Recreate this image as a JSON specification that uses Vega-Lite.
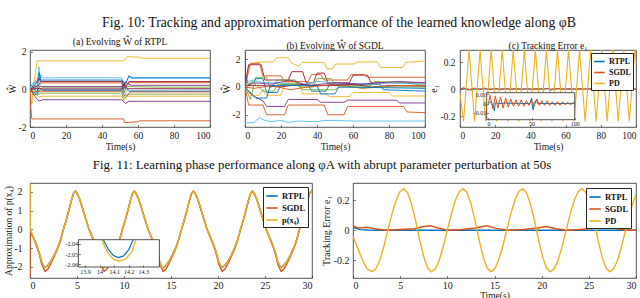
{
"$schema": "https://vega.github.io/schema/vega-lite/v6.json",
"background": "white",
"padding": {"left": 3, "top": 15, "right": 0, "bottom": 0},
"config": {
 "font": "Liberation Serif",
 "locale": {"number": {"decimal": ".", "thousands": ",", "grouping": [3], "currency": ["$", ""], "minus": "-"}},
 "view": {"stroke": "#262626", "strokeWidth": 0.8},
 "axis": {"domain": false, "ticks": true, "tickSize": -2.5, "tickColor": "#262626", "tickWidth": 0.6, "grid": false, "labelFont": "Liberation Serif", "labelFontSize": 9.5, "labelColor": "#1a1a1a", "titleFont": "Liberation Serif", "titleFontSize": 9.5, "titleFontWeight": "normal", "titleColor": "#1a1a1a", "labelPadding": 5.5, "titlePadding": 2},
 "title": {"font": "Liberation Serif", "fontSize": 9.5, "fontWeight": "normal", "color": "#111111"},
 "legend": {"labelFont": "Liberation Serif", "labelFontWeight": "bold", "labelColor": "#111111"}
},
"datasets": {
 "wa": [
  {"s":"a1","t":0,"v":0},{"s":"a1","t":1,"v":-0.8},{"s":"a1","t":2,"v":0.3},{"s":"a1","t":3,"v":0.9},{"s":"a1","t":4,"v":1.52},{"s":"a1","t":52,"v":1.52},{"s":"a1","t":53,"v":1.6},{"s":"a1","t":54,"v":1.75},{"s":"a1","t":61,"v":1.72},{"s":"a1","t":62,"v":1.66},{"s":"a1","t":100,"v":1.66},
  {"s":"a2","t":0,"v":0},{"s":"a2","t":0.5,"v":-1.0},{"s":"a2","t":1,"v":-1.57},{"s":"a2","t":52,"v":-1.57},{"s":"a2","t":52.5,"v":-1.77},{"s":"a2","t":60,"v":-1.72},{"s":"a2","t":61,"v":-1.67},{"s":"a2","t":100,"v":-1.67},
  {"s":"a3","t":0,"v":0.2},{"s":"a3","t":2,"v":-0.2},{"s":"a3","t":3,"v":0.5},{"s":"a3","t":4,"v":0.3},{"s":"a3","t":5,"v":1.2},{"s":"a3","t":5.5,"v":0.2},{"s":"a3","t":6,"v":0.8},{"s":"a3","t":7,"v":0.62},{"s":"a3","t":51,"v":0.62},{"s":"a3","t":52,"v":0.2},{"s":"a3","t":54,"v":0.5},{"s":"a3","t":55,"v":0.75},{"s":"a3","t":56,"v":0.6},{"s":"a3","t":100,"v":0.6},
  {"s":"a4","t":0,"v":0.3},{"s":"a4","t":2,"v":0.1},{"s":"a4","t":4,"v":-0.2},{"s":"a4","t":5,"v":0.9},{"s":"a4","t":6,"v":0.5},{"s":"a4","t":51,"v":0.5},{"s":"a4","t":52,"v":0},{"s":"a4","t":53,"v":0.3},{"s":"a4","t":55,"v":0.7},{"s":"a4","t":57,"v":0.62},{"s":"a4","t":100,"v":0.62},
  {"s":"a5","t":0,"v":0},{"s":"a5","t":3,"v":0.3},{"s":"a5","t":5,"v":0.6},{"s":"a5","t":6,"v":0.42},{"s":"a5","t":52,"v":0.42},{"s":"a5","t":53,"v":0.1},{"s":"a5","t":55,"v":0.42},{"s":"a5","t":100,"v":0.42},
  {"s":"a6","t":0,"v":0},{"s":"a6","t":4,"v":0.2},{"s":"a6","t":6,"v":0.35},{"s":"a6","t":51,"v":0.35},{"s":"a6","t":52,"v":-0.2},{"s":"a6","t":54,"v":0.3},{"s":"a6","t":56,"v":0.36},{"s":"a6","t":100,"v":0.36},
  {"s":"a7","t":0,"v":0},{"s":"a7","t":3,"v":0.2},{"s":"a7","t":5,"v":-0.1},{"s":"a7","t":7,"v":0.12},{"s":"a7","t":51,"v":0.12},{"s":"a7","t":52,"v":-0.2},{"s":"a7","t":54,"v":0.15},{"s":"a7","t":73,"v":0.12},{"s":"a7","t":100,"v":0.12},
  {"s":"a8","t":0,"v":0},{"s":"a8","t":3,"v":-0.4},{"s":"a8","t":5,"v":-0.62},{"s":"a8","t":7,"v":-0.55},{"s":"a8","t":51,"v":-0.55},{"s":"a8","t":53,"v":-0.75},{"s":"a8","t":55,"v":-0.63},{"s":"a8","t":100,"v":-0.63},
  {"s":"a9","t":0,"v":0},{"s":"a9","t":3,"v":-0.2},{"s":"a9","t":5,"v":-0.4},{"s":"a9","t":7,"v":-0.36},{"s":"a9","t":51,"v":-0.36},{"s":"a9","t":52,"v":-0.6},{"s":"a9","t":54,"v":-0.36},{"s":"a9","t":100,"v":-0.36},
  {"s":"a10","t":0,"v":0},{"s":"a10","t":3,"v":-0.3},{"s":"a10","t":5,"v":0.1},{"s":"a10","t":7,"v":-0.05},{"s":"a10","t":51,"v":-0.05},{"s":"a10","t":52,"v":0.3},{"s":"a10","t":55,"v":-0.1},{"s":"a10","t":100,"v":-0.1},
  {"s":"a11","t":0,"v":0},{"s":"a11","t":2,"v":0.4},{"s":"a11","t":4,"v":-0.3},{"s":"a11","t":6,"v":0},{"s":"a11","t":51,"v":0},{"s":"a11","t":52,"v":-0.4},{"s":"a11","t":54,"v":-0.05},{"s":"a11","t":100,"v":-0.03},
  {"s":"a12","t":0,"v":0},{"s":"a12","t":4,"v":-0.3},{"s":"a12","t":6,"v":-0.2},{"s":"a12","t":51,"v":-0.2},{"s":"a12","t":52,"v":-0.5},{"s":"a12","t":55,"v":-0.25},{"s":"a12","t":100,"v":-0.25},
  {"s":"a13","t":0,"v":0},{"s":"a13","t":4,"v":0.2},{"s":"a13","t":6,"v":0.15},{"s":"a13","t":51,"v":0.15},{"s":"a13","t":53,"v":0.4},{"s":"a13","t":56,"v":0.22},{"s":"a13","t":100,"v":0.22},
  {"s":"a14","t":0,"v":0},{"s":"a14","t":4,"v":0.05},{"s":"a14","t":7,"v":0.03},{"s":"a14","t":51,"v":0.03},{"s":"a14","t":52,"v":0.25},{"s":"a14","t":54,"v":0.04},{"s":"a14","t":100,"v":0.04},
  {"s":"a15","t":0,"v":0},{"s":"a15","t":2,"v":-0.15},{"s":"a15","t":5,"v":-0.1},{"s":"a15","t":51,"v":-0.1},{"s":"a15","t":53,"v":-0.35},{"s":"a15","t":56,"v":-0.13},{"s":"a15","t":100,"v":-0.13}
 ],
 "wb": [
  {"s":"b1","t":0,"v":0},{"s":"b1","t":2,"v":1.5},{"s":"b1","t":4.6,"v":1.7},{"s":"b1","t":8,"v":1.8},{"s":"b1","t":15.8,"v":1.8},{"s":"b1","t":17.7,"v":2.1},{"s":"b1","t":24,"v":2.1},{"s":"b1","t":26,"v":1.7},{"s":"b1","t":30,"v":1.5},{"s":"b1","t":31.7,"v":1.77},{"s":"b1","t":43.8,"v":1.77},{"s":"b1","t":45.6,"v":1.3},{"s":"b1","t":48.5,"v":1.3},{"s":"b1","t":50.3,"v":1.65},{"s":"b1","t":60.5,"v":1.65},{"s":"b1","t":62.4,"v":1.8},{"s":"b1","t":73.6,"v":1.8},{"s":"b1","t":75.4,"v":1.4},{"s":"b1","t":87.5,"v":1.4},{"s":"b1","t":89.4,"v":1.77},{"s":"b1","t":100,"v":1.87},
  {"s":"b2","t":0,"v":-2.6},{"s":"b2","t":5,"v":-2.55},{"s":"b2","t":8,"v":-2.2},{"s":"b2","t":10,"v":-2.35},{"s":"b2","t":14,"v":-2.5},{"s":"b2","t":20,"v":-2.4},{"s":"b2","t":24,"v":-2.55},{"s":"b2","t":30,"v":-2.45},{"s":"b2","t":40,"v":-2.5},{"s":"b2","t":45,"v":-2.4},{"s":"b2","t":60,"v":-2.45},{"s":"b2","t":80,"v":-2.45},{"s":"b2","t":100,"v":-2.45},
  {"s":"b3","t":0,"v":0},{"s":"b3","t":2,"v":-1.3},{"s":"b3","t":10,"v":-1.3},{"s":"b3","t":12,"v":-2.0},{"s":"b3","t":22,"v":-2.0},{"s":"b3","t":24,"v":-1.3},{"s":"b3","t":44,"v":-1.3},{"s":"b3","t":46,"v":-2.0},{"s":"b3","t":55,"v":-2.0},{"s":"b3","t":57,"v":-1.4},{"s":"b3","t":88,"v":-1.4},{"s":"b3","t":90,"v":-1.8},{"s":"b3","t":100,"v":-1.85},
  {"s":"b4","t":0,"v":0},{"s":"b4","t":4,"v":-0.6},{"s":"b4","t":10,"v":-1.0},{"s":"b4","t":12,"v":-1.4},{"s":"b4","t":22,"v":-1.4},{"s":"b4","t":24,"v":-0.9},{"s":"b4","t":40,"v":-0.9},{"s":"b4","t":42,"v":-1.1},{"s":"b4","t":55,"v":-1.1},{"s":"b4","t":57,"v":-0.95},{"s":"b4","t":84,"v":-0.95},{"s":"b4","t":86,"v":-1.15},{"s":"b4","t":100,"v":-1.15},
  {"s":"b5","t":0,"v":0},{"s":"b5","t":2,"v":1.6},{"s":"b5","t":9,"v":1.6},{"s":"b5","t":11,"v":0.5},{"s":"b5","t":24,"v":0.5},{"s":"b5","t":26,"v":1.1},{"s":"b5","t":32,"v":1.1},{"s":"b5","t":34,"v":0.3},{"s":"b5","t":38,"v":0.3},{"s":"b5","t":40,"v":1.0},{"s":"b5","t":44,"v":1.0},{"s":"b5","t":46,"v":0.3},{"s":"b5","t":58,"v":0.3},{"s":"b5","t":60,"v":0.85},{"s":"b5","t":68,"v":0.85},{"s":"b5","t":70,"v":0.3},{"s":"b5","t":100,"v":0.3},
  {"s":"b6","t":0,"v":0},{"s":"b6","t":3,"v":1.7},{"s":"b6","t":8,"v":1.7},{"s":"b6","t":10,"v":0.8},{"s":"b6","t":20,"v":0.8},{"s":"b6","t":22,"v":0.4},{"s":"b6","t":35,"v":0.4},{"s":"b6","t":37,"v":0.9},{"s":"b6","t":42,"v":0.9},{"s":"b6","t":44,"v":0.5},{"s":"b6","t":57,"v":0.5},{"s":"b6","t":59,"v":0.9},{"s":"b6","t":66,"v":0.9},{"s":"b6","t":68,"v":0.7},{"s":"b6","t":100,"v":0.7},
  {"s":"b7","t":0,"v":0},{"s":"b7","t":3,"v":-0.6},{"s":"b7","t":8,"v":-0.6},{"s":"b7","t":10,"v":-0.2},{"s":"b7","t":12,"v":-0.6},{"s":"b7","t":20,"v":-0.6},{"s":"b7","t":22,"v":0.3},{"s":"b7","t":30,"v":0.3},{"s":"b7","t":32,"v":-0.5},{"s":"b7","t":45,"v":-0.5},{"s":"b7","t":47,"v":-0.7},{"s":"b7","t":58,"v":-0.7},{"s":"b7","t":60,"v":-0.4},{"s":"b7","t":80,"v":-0.4},{"s":"b7","t":82,"v":-0.65},{"s":"b7","t":100,"v":-0.65},
  {"s":"b8","t":0,"v":0},{"s":"b8","t":3,"v":-0.9},{"s":"b8","t":6,"v":0.7},{"s":"b8","t":12,"v":0.7},{"s":"b8","t":14,"v":-0.1},{"s":"b8","t":18,"v":0.5},{"s":"b8","t":28,"v":0.5},{"s":"b8","t":30,"v":0},{"s":"b8","t":38,"v":0},{"s":"b8","t":40,"v":0.6},{"s":"b8","t":48,"v":0.6},{"s":"b8","t":50,"v":0.1},{"s":"b8","t":70,"v":0.1},{"s":"b8","t":72,"v":0.4},{"s":"b8","t":90,"v":0.3},{"s":"b8","t":100,"v":0.1},
  {"s":"b9","t":0,"v":1.0},{"s":"b9","t":2,"v":0.1},{"s":"b9","t":6,"v":0.6},{"s":"b9","t":10,"v":0.6},{"s":"b9","t":12,"v":-0.4},{"s":"b9","t":18,"v":-0.4},{"s":"b9","t":20,"v":0.2},{"s":"b9","t":35,"v":0.2},{"s":"b9","t":37,"v":-0.3},{"s":"b9","t":45,"v":-0.3},{"s":"b9","t":47,"v":0.2},{"s":"b9","t":75,"v":0.2},{"s":"b9","t":77,"v":-0.2},{"s":"b9","t":100,"v":-0.3},
  {"s":"b10","t":0,"v":0.3},{"s":"b10","t":4,"v":0.5},{"s":"b10","t":10,"v":0.3},{"s":"b10","t":20,"v":0.3},{"s":"b10","t":30,"v":0.1},{"s":"b10","t":40,"v":0.4},{"s":"b10","t":60,"v":0.2},{"s":"b10","t":80,"v":0.3},{"s":"b10","t":100,"v":0.2},
  {"s":"b11","t":0,"v":0},{"s":"b11","t":5,"v":0.3},{"s":"b11","t":15,"v":0.2},{"s":"b11","t":25,"v":0.5},{"s":"b11","t":35,"v":0.1},{"s":"b11","t":50,"v":0.3},{"s":"b11","t":65,"v":0.2},{"s":"b11","t":85,"v":0.4},{"s":"b11","t":100,"v":0.3},
  {"s":"b12","t":0,"v":2.5},{"s":"b12","t":0.5,"v":0.1},{"s":"b12","t":10,"v":0.1},{"s":"b12","t":20,"v":0},{"s":"b12","t":30,"v":0.2},{"s":"b12","t":40,"v":0.1},{"s":"b12","t":50,"v":0.1},{"s":"b12","t":60,"v":0.2},{"s":"b12","t":70,"v":0},{"s":"b12","t":80,"v":0.1},{"s":"b12","t":100,"v":0.05},
  {"s":"b13","t":0,"v":0},{"s":"b13","t":5,"v":-0.1},{"s":"b13","t":15,"v":0.1},{"s":"b13","t":25,"v":-0.2},{"s":"b13","t":35,"v":0},{"s":"b13","t":50,"v":0.2},{"s":"b13","t":65,"v":-0.1},{"s":"b13","t":85,"v":0.1},{"s":"b13","t":100,"v":0.1},
  {"s":"b14","t":0,"v":0},{"s":"b14","t":4,"v":0.4},{"s":"b14","t":10,"v":-0.3},{"s":"b14","t":16,"v":-0.3},{"s":"b14","t":18,"v":0.2},{"s":"b14","t":30,"v":0.2},{"s":"b14","t":32,"v":-0.2},{"s":"b14","t":50,"v":-0.2},{"s":"b14","t":52,"v":0},{"s":"b14","t":100,"v":0},
  {"s":"b15","t":0,"v":0},{"s":"b15","t":6,"v":-0.8},{"s":"b15","t":12,"v":-0.8},{"s":"b15","t":14,"v":0.1},{"s":"b15","t":40,"v":0.1},{"s":"b15","t":42,"v":-0.5},{"s":"b15","t":50,"v":-0.5},{"s":"b15","t":52,"v":0},{"s":"b15","t":100,"v":-0.1}
 ],
 "ec": [
  {"s":"RTPL","t":0,"v":0},{"s":"RTPL","t":3,"v":0.002},{"s":"RTPL","t":5,"v":-0.002},{"s":"RTPL","t":7,"v":-0.008},{"s":"RTPL","t":8,"v":0.001},{"s":"RTPL","t":12,"v":0},{"s":"RTPL","t":20,"v":0.0005},{"s":"RTPL","t":48,"v":0},{"s":"RTPL","t":50,"v":0.006},{"s":"RTPL","t":51,"v":-0.004},{"s":"RTPL","t":52,"v":-0.007},{"s":"RTPL","t":53,"v":0.001},{"s":"RTPL","t":56,"v":0.004},{"s":"RTPL","t":57,"v":0},{"s":"RTPL","t":100,"v":0},
  {"s":"SGDL","t":0,"v":0},{"s":"SGDL","t":2,"v":0.009},{"s":"SGDL","t":5,"v":-0.006},{"s":"SGDL","t":8,"v":0.008},{"s":"SGDL","t":11,"v":-0.005},{"s":"SGDL","t":14,"v":0.007},{"s":"SGDL","t":17,"v":-0.005},{"s":"SGDL","t":20,"v":0.006},{"s":"SGDL","t":23,"v":-0.004},{"s":"SGDL","t":26,"v":0.005},{"s":"SGDL","t":29,"v":-0.003},{"s":"SGDL","t":32,"v":0.004},{"s":"SGDL","t":35,"v":-0.003},{"s":"SGDL","t":38,"v":0.004},{"s":"SGDL","t":41,"v":-0.003},{"s":"SGDL","t":44,"v":0.003},{"s":"SGDL","t":47,"v":-0.002},{"s":"SGDL","t":50,"v":0.004},{"s":"SGDL","t":53,"v":-0.003},{"s":"SGDL","t":56,"v":0.005},{"s":"SGDL","t":59,"v":-0.002},{"s":"SGDL","t":62,"v":0.003},{"s":"SGDL","t":65,"v":-0.002},{"s":"SGDL","t":68,"v":0.003},{"s":"SGDL","t":71,"v":-0.002},{"s":"SGDL","t":74,"v":0.002},{"s":"SGDL","t":77,"v":-0.002},{"s":"SGDL","t":80,"v":0.002},{"s":"SGDL","t":83,"v":-0.002},{"s":"SGDL","t":86,"v":0.002},{"s":"SGDL","t":89,"v":-0.0015},{"s":"SGDL","t":92,"v":0.0015},{"s":"SGDL","t":95,"v":-0.0015},{"s":"SGDL","t":98,"v":0.001},{"s":"SGDL","t":100,"v":0},
  {"s":"PD","t":0,"v":-0.03},{"s":"PD","t":2.0,"v":-0.24},{"s":"PD","t":5.14,"v":0.29},{"s":"PD","t":8.28,"v":-0.24},{"s":"PD","t":11.42,"v":0.29},{"s":"PD","t":14.56,"v":-0.24},{"s":"PD","t":17.7,"v":0.29},{"s":"PD","t":20.84,"v":-0.24},{"s":"PD","t":23.98,"v":0.29},{"s":"PD","t":27.12,"v":-0.24},{"s":"PD","t":30.26,"v":0.29},{"s":"PD","t":33.4,"v":-0.24},{"s":"PD","t":36.54,"v":0.29},{"s":"PD","t":39.68,"v":-0.24},{"s":"PD","t":42.82,"v":0.29},{"s":"PD","t":45.96,"v":-0.24},{"s":"PD","t":49.1,"v":0.29},{"s":"PD","t":52.24,"v":-0.24},{"s":"PD","t":55.38,"v":0.29},{"s":"PD","t":58.52,"v":-0.24},{"s":"PD","t":61.66,"v":0.29},{"s":"PD","t":64.8,"v":-0.24},{"s":"PD","t":67.94,"v":0.29},{"s":"PD","t":71.08,"v":-0.24},{"s":"PD","t":74.22,"v":0.29},{"s":"PD","t":77.36,"v":-0.24},{"s":"PD","t":80.5,"v":0.29},{"s":"PD","t":83.64,"v":-0.24},{"s":"PD","t":86.78,"v":0.29},{"s":"PD","t":89.92,"v":-0.24},{"s":"PD","t":93.06,"v":0.29},{"s":"PD","t":96.2,"v":-0.24},{"s":"PD","t":99.34,"v":0.29},{"s":"PD","t":100,"v":0.22}
 ],
 "p4": [
  {"s":"RTPL","t":0,"v":0},{"s":"RTPL","t":0.35,"v":-0.4},{"s":"RTPL","t":0.7,"v":-0.82},{"s":"RTPL","t":1.0,"v":-1.28},{"s":"RTPL","t":1.25,"v":-1.75},{"s":"RTPL","t":1.57,"v":-2.05},{"s":"RTPL","t":1.85,"v":-1.94},{"s":"RTPL","t":2.2,"v":-1.72},{"s":"RTPL","t":2.6,"v":-1.35},{"s":"RTPL","t":3.0,"v":-0.9},{"s":"RTPL","t":3.25,"v":-0.55},{"s":"RTPL","t":3.55,"v":0},{"s":"RTPL","t":3.85,"v":0.5},{"s":"RTPL","t":4.1,"v":0.96},{"s":"RTPL","t":4.4,"v":1.55},{"s":"RTPL","t":4.65,"v":1.95},{"s":"RTPL","t":4.8,"v":2.03},{"s":"RTPL","t":5.0,"v":1.92},{"s":"RTPL","t":5.3,"v":1.58},{"s":"RTPL","t":5.6,"v":1.1},{"s":"RTPL","t":5.9,"v":0.6},
  {"s":"RTPL","t":6.28,"v":0},{"s":"RTPL","t":6.63,"v":-0.4},{"s":"RTPL","t":6.98,"v":-0.82},{"s":"RTPL","t":7.28,"v":-1.28},{"s":"RTPL","t":7.53,"v":-1.75},{"s":"RTPL","t":7.85,"v":-2.05},{"s":"RTPL","t":8.13,"v":-1.94},{"s":"RTPL","t":8.48,"v":-1.72},{"s":"RTPL","t":8.88,"v":-1.35},{"s":"RTPL","t":9.28,"v":-0.9},{"s":"RTPL","t":9.53,"v":-0.55},{"s":"RTPL","t":9.83,"v":0},{"s":"RTPL","t":10.13,"v":0.5},{"s":"RTPL","t":10.38,"v":0.96},{"s":"RTPL","t":10.68,"v":1.55},{"s":"RTPL","t":10.93,"v":1.95},{"s":"RTPL","t":11.08,"v":2.03},{"s":"RTPL","t":11.28,"v":1.92},{"s":"RTPL","t":11.58,"v":1.58},{"s":"RTPL","t":11.88,"v":1.1},{"s":"RTPL","t":12.18,"v":0.6},
  {"s":"RTPL","t":12.56,"v":0},{"s":"RTPL","t":12.91,"v":-0.4},{"s":"RTPL","t":13.26,"v":-0.82},{"s":"RTPL","t":13.56,"v":-1.28},{"s":"RTPL","t":13.81,"v":-1.75},{"s":"RTPL","t":14.026,"v":-2.036},{"s":"RTPL","t":14.06,"v":-2.0455},{"s":"RTPL","t":14.095,"v":-2.0515},{"s":"RTPL","t":14.13,"v":-2.0535},{"s":"RTPL","t":14.165,"v":-2.0518},{"s":"RTPL","t":14.2,"v":-2.0457},{"s":"RTPL","t":14.23,"v":-2.036},{"s":"RTPL","t":14.41,"v":-1.94},{"s":"RTPL","t":14.76,"v":-1.72},{"s":"RTPL","t":15.16,"v":-1.35},{"s":"RTPL","t":15.56,"v":-0.9},{"s":"RTPL","t":15.81,"v":-0.55},{"s":"RTPL","t":16.11,"v":0},{"s":"RTPL","t":16.41,"v":0.5},{"s":"RTPL","t":16.66,"v":0.96},{"s":"RTPL","t":16.96,"v":1.55},{"s":"RTPL","t":17.21,"v":1.95},{"s":"RTPL","t":17.36,"v":2.03},{"s":"RTPL","t":17.56,"v":1.92},{"s":"RTPL","t":17.86,"v":1.58},{"s":"RTPL","t":18.16,"v":1.1},{"s":"RTPL","t":18.46,"v":0.6},
  {"s":"RTPL","t":18.84,"v":0},{"s":"RTPL","t":19.19,"v":-0.4},{"s":"RTPL","t":19.54,"v":-0.82},{"s":"RTPL","t":19.84,"v":-1.28},{"s":"RTPL","t":20.09,"v":-1.75},{"s":"RTPL","t":20.41,"v":-2.05},{"s":"RTPL","t":20.69,"v":-1.94},{"s":"RTPL","t":21.04,"v":-1.72},{"s":"RTPL","t":21.44,"v":-1.35},{"s":"RTPL","t":21.84,"v":-0.9},{"s":"RTPL","t":22.09,"v":-0.55},{"s":"RTPL","t":22.39,"v":0},{"s":"RTPL","t":22.69,"v":0.5},{"s":"RTPL","t":22.94,"v":0.96},{"s":"RTPL","t":23.24,"v":1.55},{"s":"RTPL","t":23.49,"v":1.95},{"s":"RTPL","t":23.64,"v":2.03},{"s":"RTPL","t":23.84,"v":1.92},{"s":"RTPL","t":24.14,"v":1.58},{"s":"RTPL","t":24.44,"v":1.1},{"s":"RTPL","t":24.74,"v":0.6},
  {"s":"RTPL","t":25.12,"v":0},{"s":"RTPL","t":25.47,"v":-0.4},{"s":"RTPL","t":25.82,"v":-0.82},{"s":"RTPL","t":26.12,"v":-1.28},{"s":"RTPL","t":26.37,"v":-1.75},{"s":"RTPL","t":26.69,"v":-2.05},{"s":"RTPL","t":26.97,"v":-1.94},{"s":"RTPL","t":27.32,"v":-1.72},{"s":"RTPL","t":27.72,"v":-1.35},{"s":"RTPL","t":28.12,"v":-0.9},{"s":"RTPL","t":28.37,"v":-0.55},{"s":"RTPL","t":28.67,"v":0},{"s":"RTPL","t":28.97,"v":0.5},{"s":"RTPL","t":29.22,"v":0.96},{"s":"RTPL","t":29.52,"v":1.55},{"s":"RTPL","t":29.77,"v":1.95},{"s":"RTPL","t":29.92,"v":2.03},{"s":"RTPL","t":30,"v":2.0},
  {"s":"SGDL","t":0,"v":-2.6},{"s":"SGDL","t":0.02,"v":-0.1},{"s":"SGDL","t":0.35,"v":-0.45},{"s":"SGDL","t":0.7,"v":-0.88},{"s":"SGDL","t":1.0,"v":-1.34},{"s":"SGDL","t":1.25,"v":-1.88},{"s":"SGDL","t":1.6,"v":-2.25},{"s":"SGDL","t":1.9,"v":-2.12},{"s":"SGDL","t":2.2,"v":-1.85},{"s":"SGDL","t":2.6,"v":-1.42},{"s":"SGDL","t":3.0,"v":-0.95},{"s":"SGDL","t":3.25,"v":-0.58},{"s":"SGDL","t":3.55,"v":-0.02},{"s":"SGDL","t":3.85,"v":0.48},{"s":"SGDL","t":4.1,"v":0.94},{"s":"SGDL","t":4.4,"v":1.53},{"s":"SGDL","t":4.65,"v":1.95},{"s":"SGDL","t":4.82,"v":2.05},{"s":"SGDL","t":5.0,"v":1.94},{"s":"SGDL","t":5.3,"v":1.6},{"s":"SGDL","t":5.6,"v":1.12},{"s":"SGDL","t":5.9,"v":0.62},
  {"s":"SGDL","t":6.28,"v":0},{"s":"SGDL","t":6.63,"v":-0.45},{"s":"SGDL","t":6.98,"v":-0.88},{"s":"SGDL","t":7.28,"v":-1.34},{"s":"SGDL","t":7.53,"v":-1.88},{"s":"SGDL","t":7.88,"v":-2.25},{"s":"SGDL","t":8.18,"v":-2.12},{"s":"SGDL","t":8.48,"v":-1.85},{"s":"SGDL","t":8.88,"v":-1.42},{"s":"SGDL","t":9.28,"v":-0.95},{"s":"SGDL","t":9.53,"v":-0.58},{"s":"SGDL","t":9.83,"v":-0.02},{"s":"SGDL","t":10.13,"v":0.48},{"s":"SGDL","t":10.38,"v":0.94},{"s":"SGDL","t":10.68,"v":1.53},{"s":"SGDL","t":10.93,"v":1.95},{"s":"SGDL","t":11.1,"v":2.05},{"s":"SGDL","t":11.28,"v":1.94},{"s":"SGDL","t":11.58,"v":1.6},{"s":"SGDL","t":11.88,"v":1.12},{"s":"SGDL","t":12.18,"v":0.62},
  {"s":"SGDL","t":12.56,"v":0},{"s":"SGDL","t":12.91,"v":-0.45},{"s":"SGDL","t":13.26,"v":-0.88},{"s":"SGDL","t":13.56,"v":-1.34},{"s":"SGDL","t":13.81,"v":-1.88},{"s":"SGDL","t":14.16,"v":-2.25},{"s":"SGDL","t":14.46,"v":-2.12},{"s":"SGDL","t":14.76,"v":-1.85},{"s":"SGDL","t":15.16,"v":-1.42},{"s":"SGDL","t":15.56,"v":-0.95},{"s":"SGDL","t":15.81,"v":-0.58},{"s":"SGDL","t":16.11,"v":-0.02},{"s":"SGDL","t":16.41,"v":0.48},{"s":"SGDL","t":16.66,"v":0.94},{"s":"SGDL","t":16.96,"v":1.53},{"s":"SGDL","t":17.21,"v":1.95},{"s":"SGDL","t":17.38,"v":2.05},{"s":"SGDL","t":17.56,"v":1.94},{"s":"SGDL","t":17.86,"v":1.6},{"s":"SGDL","t":18.16,"v":1.12},{"s":"SGDL","t":18.46,"v":0.62},
  {"s":"SGDL","t":18.84,"v":0},{"s":"SGDL","t":19.19,"v":-0.45},{"s":"SGDL","t":19.54,"v":-0.88},{"s":"SGDL","t":19.84,"v":-1.34},{"s":"SGDL","t":20.09,"v":-1.88},{"s":"SGDL","t":20.44,"v":-2.25},{"s":"SGDL","t":20.74,"v":-2.12},{"s":"SGDL","t":21.04,"v":-1.85},{"s":"SGDL","t":21.44,"v":-1.42},{"s":"SGDL","t":21.84,"v":-0.95},{"s":"SGDL","t":22.09,"v":-0.58},{"s":"SGDL","t":22.39,"v":-0.02},{"s":"SGDL","t":22.69,"v":0.48},{"s":"SGDL","t":22.94,"v":0.94},{"s":"SGDL","t":23.24,"v":1.53},{"s":"SGDL","t":23.49,"v":1.95},{"s":"SGDL","t":23.66,"v":2.05},{"s":"SGDL","t":23.84,"v":1.94},{"s":"SGDL","t":24.14,"v":1.6},{"s":"SGDL","t":24.44,"v":1.12},{"s":"SGDL","t":24.74,"v":0.62},
  {"s":"SGDL","t":25.12,"v":0},{"s":"SGDL","t":25.47,"v":-0.45},{"s":"SGDL","t":25.82,"v":-0.88},{"s":"SGDL","t":26.12,"v":-1.34},{"s":"SGDL","t":26.37,"v":-1.88},{"s":"SGDL","t":26.72,"v":-2.25},{"s":"SGDL","t":27.02,"v":-2.12},{"s":"SGDL","t":27.32,"v":-1.85},{"s":"SGDL","t":27.72,"v":-1.42},{"s":"SGDL","t":28.12,"v":-0.95},{"s":"SGDL","t":28.37,"v":-0.58},{"s":"SGDL","t":28.67,"v":-0.02},{"s":"SGDL","t":28.97,"v":0.48},{"s":"SGDL","t":29.22,"v":0.94},{"s":"SGDL","t":29.52,"v":1.53},{"s":"SGDL","t":29.77,"v":1.95},{"s":"SGDL","t":29.94,"v":2.05},{"s":"SGDL","t":30,"v":2.02},
  {"s":"p(x₄)","t":0,"v":2.45},{"s":"p(x₄)","t":0.02,"v":0},{"s":"p(x₄)","t":0.35,"v":-0.4},{"s":"p(x₄)","t":0.7,"v":-0.82},{"s":"p(x₄)","t":1.0,"v":-1.28},{"s":"p(x₄)","t":1.25,"v":-1.75},{"s":"p(x₄)","t":1.57,"v":-2.057},{"s":"p(x₄)","t":1.85,"v":-1.95},{"s":"p(x₄)","t":2.2,"v":-1.72},{"s":"p(x₄)","t":2.6,"v":-1.35},{"s":"p(x₄)","t":3.0,"v":-0.9},{"s":"p(x₄)","t":3.25,"v":-0.55},{"s":"p(x₄)","t":3.55,"v":0},{"s":"p(x₄)","t":3.85,"v":0.5},{"s":"p(x₄)","t":4.1,"v":0.96},{"s":"p(x₄)","t":4.4,"v":1.55},{"s":"p(x₄)","t":4.65,"v":1.95},{"s":"p(x₄)","t":4.8,"v":2.03},{"s":"p(x₄)","t":5.0,"v":1.92},{"s":"p(x₄)","t":5.3,"v":1.58},{"s":"p(x₄)","t":5.6,"v":1.1},{"s":"p(x₄)","t":5.9,"v":0.6},
  {"s":"p(x₄)","t":6.28,"v":0},{"s":"p(x₄)","t":6.63,"v":-0.4},{"s":"p(x₄)","t":6.98,"v":-0.82},{"s":"p(x₄)","t":7.28,"v":-1.28},{"s":"p(x₄)","t":7.53,"v":-1.75},{"s":"p(x₄)","t":7.85,"v":-2.057},{"s":"p(x₄)","t":8.13,"v":-1.95},{"s":"p(x₄)","t":8.48,"v":-1.72},{"s":"p(x₄)","t":8.88,"v":-1.35},{"s":"p(x₄)","t":9.28,"v":-0.9},{"s":"p(x₄)","t":9.53,"v":-0.55},{"s":"p(x₄)","t":9.83,"v":0},{"s":"p(x₄)","t":10.13,"v":0.5},{"s":"p(x₄)","t":10.38,"v":0.96},{"s":"p(x₄)","t":10.68,"v":1.55},{"s":"p(x₄)","t":10.93,"v":1.95},{"s":"p(x₄)","t":11.08,"v":2.03},{"s":"p(x₄)","t":11.28,"v":1.92},{"s":"p(x₄)","t":11.58,"v":1.58},{"s":"p(x₄)","t":11.88,"v":1.1},{"s":"p(x₄)","t":12.18,"v":0.6},
  {"s":"p(x₄)","t":12.56,"v":0},{"s":"p(x₄)","t":12.91,"v":-0.4},{"s":"p(x₄)","t":13.26,"v":-0.82},{"s":"p(x₄)","t":13.56,"v":-1.28},{"s":"p(x₄)","t":13.81,"v":-1.75},{"s":"p(x₄)","t":14.015,"v":-2.036},{"s":"p(x₄)","t":14.05,"v":-2.0475},{"s":"p(x₄)","t":14.09,"v":-2.0545},{"s":"p(x₄)","t":14.135,"v":-2.057},{"s":"p(x₄)","t":14.18,"v":-2.0548},{"s":"p(x₄)","t":14.22,"v":-2.048},{"s":"p(x₄)","t":14.25,"v":-2.036},{"s":"p(x₄)","t":14.41,"v":-1.95},{"s":"p(x₄)","t":14.76,"v":-1.72},{"s":"p(x₄)","t":15.16,"v":-1.35},{"s":"p(x₄)","t":15.56,"v":-0.9},{"s":"p(x₄)","t":15.81,"v":-0.55},{"s":"p(x₄)","t":16.11,"v":0},{"s":"p(x₄)","t":16.41,"v":0.5},{"s":"p(x₄)","t":16.66,"v":0.96},{"s":"p(x₄)","t":16.96,"v":1.55},{"s":"p(x₄)","t":17.21,"v":1.95},{"s":"p(x₄)","t":17.36,"v":2.03},{"s":"p(x₄)","t":17.56,"v":1.92},{"s":"p(x₄)","t":17.86,"v":1.58},{"s":"p(x₄)","t":18.16,"v":1.1},{"s":"p(x₄)","t":18.46,"v":0.6},
  {"s":"p(x₄)","t":18.84,"v":0},{"s":"p(x₄)","t":19.19,"v":-0.4},{"s":"p(x₄)","t":19.54,"v":-0.82},{"s":"p(x₄)","t":19.84,"v":-1.28},{"s":"p(x₄)","t":20.09,"v":-1.75},{"s":"p(x₄)","t":20.41,"v":-2.057},{"s":"p(x₄)","t":20.69,"v":-1.95},{"s":"p(x₄)","t":21.04,"v":-1.72},{"s":"p(x₄)","t":21.44,"v":-1.35},{"s":"p(x₄)","t":21.84,"v":-0.9},{"s":"p(x₄)","t":22.09,"v":-0.55},{"s":"p(x₄)","t":22.39,"v":0},{"s":"p(x₄)","t":22.69,"v":0.5},{"s":"p(x₄)","t":22.94,"v":0.96},{"s":"p(x₄)","t":23.24,"v":1.55},{"s":"p(x₄)","t":23.49,"v":1.95},{"s":"p(x₄)","t":23.64,"v":2.03},{"s":"p(x₄)","t":23.84,"v":1.92},{"s":"p(x₄)","t":24.14,"v":1.58},{"s":"p(x₄)","t":24.44,"v":1.1},{"s":"p(x₄)","t":24.74,"v":0.6},
  {"s":"p(x₄)","t":25.12,"v":0},{"s":"p(x₄)","t":25.47,"v":-0.4},{"s":"p(x₄)","t":25.82,"v":-0.82},{"s":"p(x₄)","t":26.12,"v":-1.28},{"s":"p(x₄)","t":26.37,"v":-1.75},{"s":"p(x₄)","t":26.69,"v":-2.057},{"s":"p(x₄)","t":26.97,"v":-1.95},{"s":"p(x₄)","t":27.32,"v":-1.72},{"s":"p(x₄)","t":27.72,"v":-1.35},{"s":"p(x₄)","t":28.12,"v":-0.9},{"s":"p(x₄)","t":28.37,"v":-0.55},{"s":"p(x₄)","t":28.67,"v":0},{"s":"p(x₄)","t":28.97,"v":0.5},{"s":"p(x₄)","t":29.22,"v":0.96},{"s":"p(x₄)","t":29.52,"v":1.55},{"s":"p(x₄)","t":29.77,"v":1.95},{"s":"p(x₄)","t":29.92,"v":2.03},{"s":"p(x₄)","t":30,"v":2.0}
 ],
 "e1": [
  {"s":"RTPL","t":0,"v":0.02},{"s":"RTPL","t":0.3,"v":0.012},{"s":"RTPL","t":0.8,"v":0.004},{"s":"RTPL","t":1.5,"v":0.001},{"s":"RTPL","t":3,"v":0},{"s":"RTPL","t":30,"v":0},
  {"s":"SGDL","t":0,"v":0.03},{"s":"SGDL","t":0.5,"v":0.015},{"s":"SGDL","t":1.5,"v":0.02},{"s":"SGDL","t":2.5,"v":0.008},{"s":"SGDL","t":3.5,"v":0},{"s":"SGDL","t":5,"v":0.005},{"s":"SGDL","t":6.5,"v":0.01},{"s":"SGDL","t":7.5,"v":0.025},{"s":"SGDL","t":8.2,"v":0.03},{"s":"SGDL","t":9,"v":0.015},{"s":"SGDL","t":10,"v":0},{"s":"SGDL","t":11.5,"v":0.005},{"s":"SGDL","t":13,"v":0.015},{"s":"SGDL","t":14.2,"v":0.03},{"s":"SGDL","t":15.2,"v":0.012},{"s":"SGDL","t":16.5,"v":0},{"s":"SGDL","t":18,"v":0.005},{"s":"SGDL","t":19.5,"v":0.015},{"s":"SGDL","t":20.5,"v":0.025},{"s":"SGDL","t":21.5,"v":0.01},{"s":"SGDL","t":22.8,"v":0},{"s":"SGDL","t":24,"v":0.005},{"s":"SGDL","t":25.8,"v":0.015},{"s":"SGDL","t":27,"v":0.03},{"s":"SGDL","t":28,"v":0.01},{"s":"SGDL","t":29,"v":0},{"s":"SGDL","t":30,"v":0},
  {"s":"PD","t":0,"v":-0.04},{"s":"PD","t":0.5,"v":-0.12},{"s":"PD","t":1.0,"v":-0.2},{"s":"PD","t":1.5,"v":-0.26},{"s":"PD","t":2.02,"v":-0.278},{"s":"PD","t":2.42,"v":-0.259},{"s":"PD","t":2.82,"v":-0.204},{"s":"PD","t":3.22,"v":-0.121},{"s":"PD","t":3.7,"v":0},{"s":"PD","t":4.18,"v":0.121},{"s":"PD","t":4.58,"v":0.204},{"s":"PD","t":4.98,"v":0.259},{"s":"PD","t":5.38,"v":0.278},{"s":"PD","t":5.78,"v":0.253},{"s":"PD","t":6.18,"v":0.182},{"s":"PD","t":6.58,"v":0.079},{"s":"PD","t":6.85,"v":0},{"s":"PD","t":7.12,"v":-0.079},{"s":"PD","t":7.52,"v":-0.182},{"s":"PD","t":7.92,"v":-0.253},{"s":"PD","t":8.32,"v":-0.278},
  {"s":"PD","t":8.72,"v":-0.259},{"s":"PD","t":9.12,"v":-0.204},{"s":"PD","t":9.52,"v":-0.121},{"s":"PD","t":10.0,"v":0},{"s":"PD","t":10.48,"v":0.121},{"s":"PD","t":10.88,"v":0.204},{"s":"PD","t":11.28,"v":0.259},{"s":"PD","t":11.68,"v":0.278},{"s":"PD","t":12.08,"v":0.253},{"s":"PD","t":12.48,"v":0.182},{"s":"PD","t":12.88,"v":0.079},{"s":"PD","t":13.15,"v":0},{"s":"PD","t":13.42,"v":-0.079},{"s":"PD","t":13.82,"v":-0.182},{"s":"PD","t":14.22,"v":-0.253},{"s":"PD","t":14.62,"v":-0.278},
  {"s":"PD","t":15.02,"v":-0.259},{"s":"PD","t":15.42,"v":-0.204},{"s":"PD","t":15.82,"v":-0.121},{"s":"PD","t":16.3,"v":0},{"s":"PD","t":16.78,"v":0.121},{"s":"PD","t":17.18,"v":0.204},{"s":"PD","t":17.58,"v":0.259},{"s":"PD","t":17.98,"v":0.278},{"s":"PD","t":18.38,"v":0.253},{"s":"PD","t":18.78,"v":0.182},{"s":"PD","t":19.18,"v":0.079},{"s":"PD","t":19.45,"v":0},{"s":"PD","t":19.72,"v":-0.079},{"s":"PD","t":20.12,"v":-0.182},{"s":"PD","t":20.52,"v":-0.253},{"s":"PD","t":20.92,"v":-0.278},
  {"s":"PD","t":21.32,"v":-0.259},{"s":"PD","t":21.72,"v":-0.204},{"s":"PD","t":22.12,"v":-0.121},{"s":"PD","t":22.6,"v":0},{"s":"PD","t":23.08,"v":0.121},{"s":"PD","t":23.48,"v":0.204},{"s":"PD","t":23.88,"v":0.259},{"s":"PD","t":24.28,"v":0.278},{"s":"PD","t":24.68,"v":0.253},{"s":"PD","t":25.08,"v":0.182},{"s":"PD","t":25.48,"v":0.079},{"s":"PD","t":25.75,"v":0},{"s":"PD","t":26.02,"v":-0.079},{"s":"PD","t":26.42,"v":-0.182},{"s":"PD","t":26.82,"v":-0.253},{"s":"PD","t":27.22,"v":-0.278},
  {"s":"PD","t":27.62,"v":-0.259},{"s":"PD","t":28.02,"v":-0.204},{"s":"PD","t":28.42,"v":-0.121},{"s":"PD","t":28.9,"v":0},{"s":"PD","t":29.38,"v":0.121},{"s":"PD","t":29.78,"v":0.204},{"s":"PD","t":30,"v":0.235}
 ]
},
"vconcat": [
 {
  "width": 618, "height": 1,
  "view": {"stroke": null},
  "title": {"text": "Fig. 10: Tracking and approximation performance of the learned knowledge along φB", "fontSize": 13.8, "anchor": "middle", "frame": "group", "offset": -13},
  "data": {"values": [{}]},
  "mark": {"type": "text"},
  "encoding": {"text": {"value": ""}}
 },
 {
  "hconcat": [
   {
    "width": 180, "height": 77,
    "title": {"text": "(a) Evolving Ŵ of RTPL", "frame": "group", "offset": 0},
    "data": {"name": "wa"},
    "mark": {"type": "line", "strokeWidth": 0.9, "clip": true},
    "encoding": {
     "x": {"field": "t", "type": "quantitative", "scale": {"domain": [0, 100], "nice": false}, "axis": {"values": [0,20,40,60,80,100], "title": "Time(s)", "labelExpr": "format(datum.value, '~g')"}},
     "y": {"field": "v", "type": "quantitative", "scale": {"domain": [-2, 2.1], "nice": false, "zero": false}, "axis": {"values": [-2,0,2], "title": "Ŵ", "labelExpr": "format(datum.value, '~g')", "labelPadding": 6.5, "titlePadding": 1}},
     "color": {"field": "s", "type": "nominal", "scale": {"domain": ["a1","a2","a3","a4","a5","a6","a7","a8","a9","a10","a11","a12","a13","a14","a15"], "range": ["#EDB120","#D95319","#4DBEEE","#0072BD","#A2142F","#D95319","#77AC30","#7E2F8E","#EDB120","#0072BD","#4DBEEE","#77AC30","#7E2F8E","#A2142F","#D95319"]}, "legend": null}
    }
   },
   {
    "width": 180, "height": 77,
    "title": {"text": "(b) Evolving Ŵ of SGDL", "frame": "group", "offset": 0},
    "data": {"name": "wb"},
    "mark": {"type": "line", "strokeWidth": 0.9, "clip": true},
    "encoding": {
     "x": {"field": "t", "type": "quantitative", "scale": {"domain": [0, 100], "nice": false}, "axis": {"values": [0,20,40,60,80,100], "title": "Time(s)", "labelExpr": "format(datum.value, '~g')"}},
     "y": {"field": "v", "type": "quantitative", "scale": {"domain": [-2.88, 2.66], "nice": false, "zero": false}, "axis": {"values": [-2,0,2], "title": "Ŵ", "labelExpr": "format(datum.value, '~g')", "labelPadding": 7.5, "titlePadding": 1}},
     "color": {"field": "s", "type": "nominal", "scale": {"domain": ["b1","b2","b3","b4","b5","b6","b7","b8","b9","b10","b11","b12","b13","b14","b15"], "range": ["#EDB120","#4DBEEE","#D95319","#7E2F8E","#A2142F","#D95319","#EDB120","#77AC30","#0072BD","#4DBEEE","#7E2F8E","#A2142F","#D95319","#77AC30","#0072BD"]}, "legend": null}
    }
   },
   {
    "width": 176, "height": 77,
    "title": {"text": "(c) Tracking Error e₁", "frame": "group", "offset": 0},
    "layer": [
     {
      "data": {"name": "ec"},
      "mark": {"type": "line", "strokeWidth": 1.1, "clip": true},
      "encoding": {
       "x": {"field": "t", "type": "quantitative", "scale": {"domain": [0, 100], "nice": false}, "axis": {"values": [0,20,40,60,80,100], "title": "Time(s)", "labelExpr": "format(datum.value, '~g')", "orient": "bottom"}},
       "y": {"field": "v", "type": "quantitative", "scale": {"domain": [-0.281, 0.289], "nice": false, "zero": false}, "axis": {"values": [-0.2,0,0.2], "title": "e₁", "labelExpr": "format(datum.value, '~g')", "orient": "left", "labelPadding": 7.5, "titlePadding": 1}},
       "color": {"field": "s", "type": "nominal", "scale": {"domain": ["RTPL","SGDL","PD"], "range": ["#0072BD","#D95319","#EDB120"]}, "legend": {"title": null, "orient": "top-right", "offset": 3, "strokeColor": "#262626", "fillColor": "white", "padding": 2, "symbolType": "stroke", "symbolStrokeWidth": 1.6, "symbolSize": 110, "labelFontSize": 8, "rowPadding": 0, "labelOffset": 3}}
      }
     },
     {
      "layer": [
       {
        "data": {"values": [{}]},
        "mark": {"type": "rect", "fill": "white", "stroke": "#262626", "strokeWidth": 0.8},
        "encoding": {
         "x": {"datum": -2, "type": "quantitative", "scale": {"domain": [-2, 100], "range": [26.7, 114.7], "nice": false, "zero": false}, "axis": {"orient": "bottom", "offset": -7.3, "values": [0,50,100], "title": null, "labelExpr": "format(datum.value, '~g')", "labelFontSize": 6, "labelPadding": 3, "tickSize": -2, "labelFlush": false, "zindex": 1}},
         "x2": {"datum": 100},
         "y": {"datum": -0.0177, "type": "quantitative", "scale": {"domain": [-0.0177, 0.0119], "range": [69.7, 42.7], "nice": false, "zero": false}, "axis": {"orient": "left", "offset": -26.7, "values": [-0.01,0,0.01], "title": null, "labelExpr": "format(datum.value, '~g')", "labelFontSize": 6, "labelPadding": 3, "tickSize": -2, "labelFlush": false, "zindex": 1}},
         "y2": {"datum": 0.0119}
        }
       },
       {
        "data": {"name": "ec"},
        "transform": [{"filter": "datum.s !== 'PD'"}],
        "mark": {"type": "line", "strokeWidth": 1},
        "encoding": {
         "x": {"field": "t", "type": "quantitative", "scale": {"domain": [-2, 100], "range": [26.7, 114.7], "nice": false, "zero": false}, "axis": {"orient": "bottom", "offset": -7.3, "values": [0,50,100], "title": null, "labelExpr": "format(datum.value, '~g')", "labelFontSize": 6, "labelPadding": 3, "tickSize": -2, "labelFlush": false, "zindex": 1}},
         "y": {"field": "v", "type": "quantitative", "scale": {"domain": [-0.0177, 0.0119], "range": [69.7, 42.7], "nice": false, "zero": false}, "axis": {"orient": "left", "offset": -26.7, "values": [-0.01,0,0.01], "title": null, "labelExpr": "format(datum.value, '~g')", "labelFontSize": 6, "labelPadding": 3, "tickSize": -2, "labelFlush": false, "zindex": 1}},
         "color": {"field": "s", "type": "nominal", "legend": {"title": null, "orient": "top-right", "offset": 3, "strokeColor": "#262626", "fillColor": "white", "padding": 2, "symbolType": "stroke", "symbolStrokeWidth": 1.6, "symbolSize": 110, "labelFontSize": 8, "rowPadding": 0, "labelOffset": 3}}
        }
       }
      ]
     }
    ],
    "resolve": {"scale": {"x": "independent", "y": "independent"}, "axis": {"x": "independent", "y": "independent"}}
   }
  ],
  "spacing": 35,
  "bounds": "flush",
  "resolve": {"scale": {"color": "independent"}, "legend": {"color": "independent"}}
 },
 {
  "hconcat": [
   {
    "width": 282, "height": 95,
    "title": {"text": "Fig. 11: Learning phase performance along φA with abrupt parameter perturbation at 50s", "fontSize": 12.9, "anchor": "middle", "frame": "group", "dx": 151, "offset": 11},
    "layer": [
     {
      "data": {"name": "p4"},
      "mark": {"type": "line", "strokeWidth": 1.4, "clip": true},
      "encoding": {
       "x": {"field": "t", "type": "quantitative", "scale": {"domain": [0, 30], "nice": false}, "axis": {"values": [0,5,10,15,20,25,30], "title": null, "labelExpr": "format(datum.value, '~g')", "orient": "bottom", "labelFontSize": 10, "labelPadding": 4.5}},
       "y": {"field": "v", "type": "quantitative", "scale": {"domain": [-2.6, 2.48], "nice": false, "zero": false}, "axis": {"values": [-2,-1,0,1,2], "title": "Approximation of p(x₄)", "labelExpr": "format(datum.value, '~g')", "orient": "left", "labelFontSize": 10, "labelPadding": 10.5, "titlePadding": 0}},
       "color": {"field": "s", "type": "nominal", "scale": {"domain": ["RTPL","SGDL","p(x₄)"], "range": ["#0072BD","#D95319","#EDB120"]}, "legend": {"title": null, "orient": "top-right", "offset": 4, "strokeColor": "#262626", "fillColor": "white", "padding": 2, "symbolType": "stroke", "symbolStrokeWidth": 1.6, "symbolSize": 130, "labelFontSize": 8.5, "rowPadding": 0, "labelOffset": 3}}
      }
     },
     {
      "layer": [
       {
        "data": {"values": [{}]},
        "mark": {"type": "rect", "fill": "white", "stroke": "#262626", "strokeWidth": 0.8},
        "encoding": {
         "x": {"datum": 13.855, "type": "quantitative", "scale": {"domain": [13.855, 14.41], "range": [48.4, 129.4], "nice": false, "zero": false}, "axis": {"orient": "bottom", "offset": -11, "values": [13.9,14,14.1,14.2,14.3], "title": null, "labelExpr": "format(datum.value, '~g')", "labelFontSize": 6, "labelPadding": 3, "tickSize": -2, "labelFlush": false, "zindex": 1}},
         "x2": {"datum": 14.41},
         "y": {"datum": -2.0626, "type": "quantitative", "scale": {"domain": [-2.0626, -2.036], "range": [84, 56.7], "nice": false, "zero": false}, "axis": {"orient": "left", "offset": -48.4, "values": [-2.06,-2.05,-2.04], "title": null, "labelExpr": "format(datum.value, '~g')", "labelFontSize": 6, "labelPadding": 3, "tickSize": -2, "labelFlush": false, "zindex": 1}},
         "y2": {"datum": -2.036}
        }
       },
       {
        "data": {"name": "p4"},
        "transform": [{"filter": {"and": [{"field": "t", "range": [13.855, 14.41]}, {"field": "v", "range": [-2.0626, -2.036]}]}}],
        "mark": {"type": "line", "strokeWidth": 1.2},
        "encoding": {
         "x": {"field": "t", "type": "quantitative", "scale": {"domain": [13.855, 14.41], "range": [48.4, 129.4], "nice": false, "zero": false}, "axis": {"orient": "bottom", "offset": -11, "values": [13.9,14,14.1,14.2,14.3], "title": null, "labelExpr": "format(datum.value, '~g')", "labelFontSize": 6, "labelPadding": 3, "tickSize": -2, "labelFlush": false, "zindex": 1}},
         "y": {"field": "v", "type": "quantitative", "scale": {"domain": [-2.0626, -2.036], "range": [84, 56.7], "nice": false, "zero": false}, "axis": {"orient": "left", "offset": -48.4, "values": [-2.06,-2.05,-2.04], "title": null, "labelExpr": "format(datum.value, '~g')", "labelFontSize": 6, "labelPadding": 3, "tickSize": -2, "labelFlush": false, "zindex": 1}},
         "color": {"field": "s", "type": "nominal", "legend": {"title": null, "orient": "top-right", "offset": 4, "strokeColor": "#262626", "fillColor": "white", "padding": 2, "symbolType": "stroke", "symbolStrokeWidth": 1.6, "symbolSize": 130, "labelFontSize": 8.5, "rowPadding": 0, "labelOffset": 3}}
        }
       }
      ]
     }
    ],
    "resolve": {"scale": {"x": "independent", "y": "independent"}, "axis": {"x": "independent", "y": "independent"}}
   },
   {
    "width": 283, "height": 95,
    "data": {"name": "e1"},
    "mark": {"type": "line", "strokeWidth": 1.4, "clip": true},
    "encoding": {
     "x": {"field": "t", "type": "quantitative", "scale": {"domain": [0, 30], "nice": false}, "axis": {"values": [0,5,10,15,20,25,30], "title": "Time(s)", "labelExpr": "format(datum.value, '~g')", "labelFontSize": 10, "labelPadding": 4.5, "titlePadding": 0}},
     "y": {"field": "v", "type": "quantitative", "scale": {"domain": [-0.32, 0.316], "nice": false, "zero": false}, "axis": {"values": [-0.2,0,0.2], "title": "Tracking Error e₁", "labelExpr": "format(datum.value, '~g')", "labelFontSize": 10, "labelPadding": 6.5, "titlePadding": 2, "titleFontSize": 10}},
     "color": {"field": "s", "type": "nominal", "scale": {"domain": ["RTPL","SGDL","PD"], "range": ["#0072BD","#D95319","#EDB120"]}, "legend": {"title": null, "orient": "top-right", "offset": 5, "strokeColor": "#262626", "fillColor": "white", "padding": 2, "symbolType": "stroke", "symbolStrokeWidth": 1.6, "symbolSize": 130, "labelFontSize": 8.5, "rowPadding": 0, "labelOffset": 3}}
    }
   }
  ],
  "spacing": 41,
  "bounds": "flush",
  "resolve": {"scale": {"color": "independent"}, "legend": {"color": "independent"}}
 }
],
"spacing": 6,
"bounds": "full",
"resolve": {"scale": {"color": "independent"}, "legend": {"color": "independent"}}
}
